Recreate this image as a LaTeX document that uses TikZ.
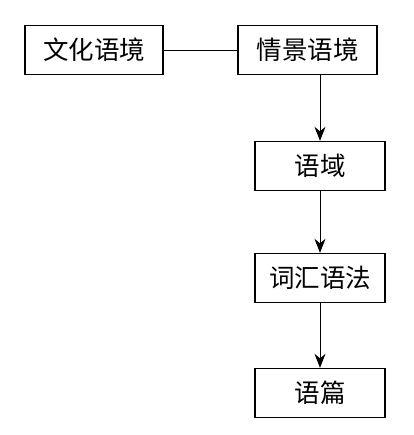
\documentclass[tikz,border=0pt]{standalone}
\usepackage{fontspec}
\newfontfamily\cjk{Noto Sans CJK SC}
\usepackage{tikz}
\usetikzlibrary{arrows.meta}

\begin{document}
\begin{tikzpicture}[x=1pt,y=-1pt,>={Stealth[length=14pt,width=11pt]},
  box/.style={draw,line width=1.4pt,minimum height=49pt,inner sep=0pt,font=\cjk\fontsize{25.5}{25.5}\selectfont}]
  \useasboundingbox (0,0) rectangle (413,435);
  \node[box,minimum width=138pt] (whyj) at (94,50) {文化语境};
  \node[box,minimum width=139pt] (qjyj) at (307.5,50) {情景语境};
  \node[box,minimum width=130pt] (yy) at (320,166) {语域};
  \node[box,minimum width=130pt] (chyf) at (320,278) {词汇语法};
  \node[box,minimum width=130pt] (yp) at (320,393) {语篇};
  \draw[line width=0.9pt] (whyj) -- (qjyj);
  \draw[->,line width=0.9pt] (yy.north |- qjyj.south) -- (yy);
  \draw[->,line width=0.9pt] (yy) -- (chyf);
  \draw[->,line width=0.9pt] (chyf) -- (yp);
\end{tikzpicture}
\end{document}
